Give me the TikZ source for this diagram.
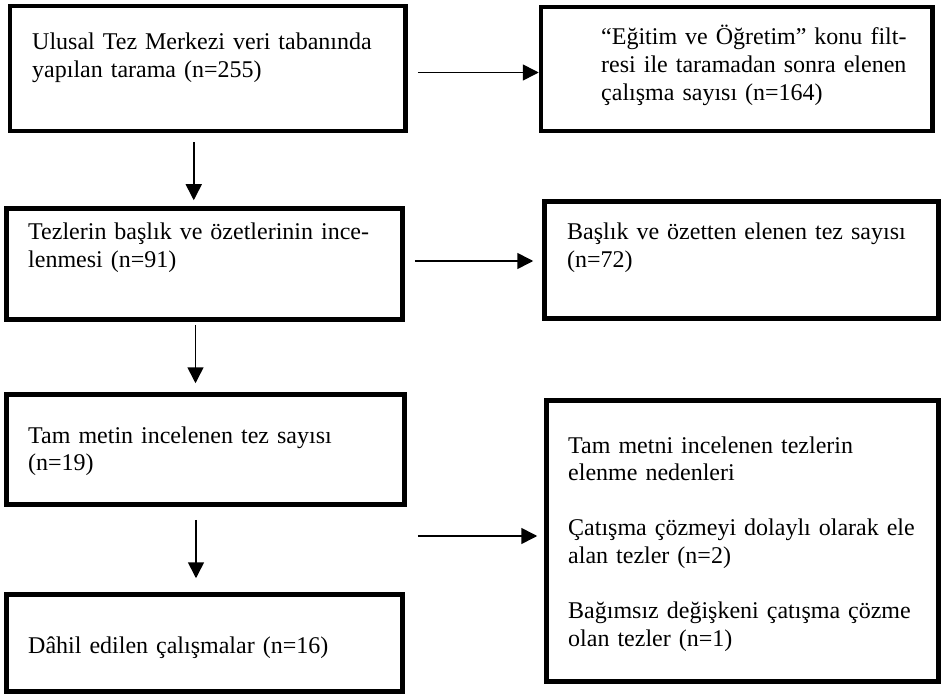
\documentclass[tikz,border=0pt]{standalone}
\usepackage{fontspec}
\setmainfont{Liberation Serif}
\usetikzlibrary{arrows.meta}

\begin{document}
\begin{tikzpicture}[x=1pt, y=-1pt,
  box/.style={draw, line width=4.5pt, inner sep=0pt},
  txt/.style={anchor=base west, text width=380pt, align=left, inner sep=0pt, font=\fontsize{24}{27.6}\selectfont},
  arr/.style={line width=1.6pt, -{Triangle[length=16pt, width=16pt]}}]
  \useasboundingbox (0,0) rectangle (943,695);

  % boxes
  \node[box, minimum width=395.5pt, minimum height=125pt] (b1) at (207.75,68.5) {};
  \node[box, minimum width=391.5pt, minimum height=124pt] (b2) at (736.75,69) {};
  \node[box, minimum width=396pt, minimum height=111pt] (b3) at (204.5,264) {};
  \node[box, minimum width=394pt, minimum height=117pt] (b4) at (741.5,260) {};
  \node[box, minimum width=398pt, minimum height=110pt] (b5) at (205.5,449.5) {};
  \node[box, minimum width=392pt, minimum height=281pt] (b6) at (742.5,541) {};
  \node[box, minimum width=396pt, minimum height=97pt] (b7) at (204.5,643) {};

  % texts
  \node[txt] (t1) at (32,50) {Ulusal Tez Merkezi veri tabanında\\yapılan tarama (n=255)};
  \node[txt] (t2) at (601,45) {“Eğitim ve Öğretim” konu filt-\\resi ile taramadan sonra elenen\\çalışma sayısı (n=164)};
  \node[txt] (t3) at (28,240) {Tezlerin başlık ve özetlerinin ince-\\lenmesi (n=91)};
  \node[txt] (t4) at (567,240) {Başlık ve özetten elenen tez sayısı\\(n=72)};
  \node[txt] (t5) at (28,443) {Tam metin incelenen tez sayısı\\(n=19)};
  \node[txt] (t6) at (568,453) {Tam metni incelenen tezlerin\\elenme nedenleri\\[27.6pt]Çatışma çözmeyi dolaylı olarak ele\\alan tezler (n=2)\\[27.6pt]Bağımsız değişkeni çatışma çözme\\olan tezler (n=1)};
  \node[txt] (t7) at (28,653) {Dâhil edilen çalışmalar (n=16)};

  % arrows
  \draw[arr, shorten <=10pt] ([yshift=-4pt]b1.east) -- ([yshift=-3.5pt]b2.west);
  \draw[arr, shorten <=10pt, shorten >=9pt] ([yshift=3pt]b3.east) -- ([yshift=-1pt]b4.west);
  \draw[arr, shorten <=11pt, shorten >=7pt] ([yshift=5pt]b5.east |- b6.west) -- ([yshift=5pt]b6.west);
  \draw[arr, shorten <=9pt, shorten >=6pt] ([xshift=-14pt]b1.south) -- ([xshift=-14pt]b1.south |- b3.north);
  \draw[arr, shorten <=3pt, shorten >=9pt] ([xshift=-9pt]b3.south) -- ([xshift=-9pt]b3.south |- b5.north);
  \draw[arr, shorten <=13pt, shorten >=14pt] ([xshift=-9.5pt]b5.south) -- ([xshift=-9.5pt]b5.south |- b7.north);
\end{tikzpicture}
\end{document}
